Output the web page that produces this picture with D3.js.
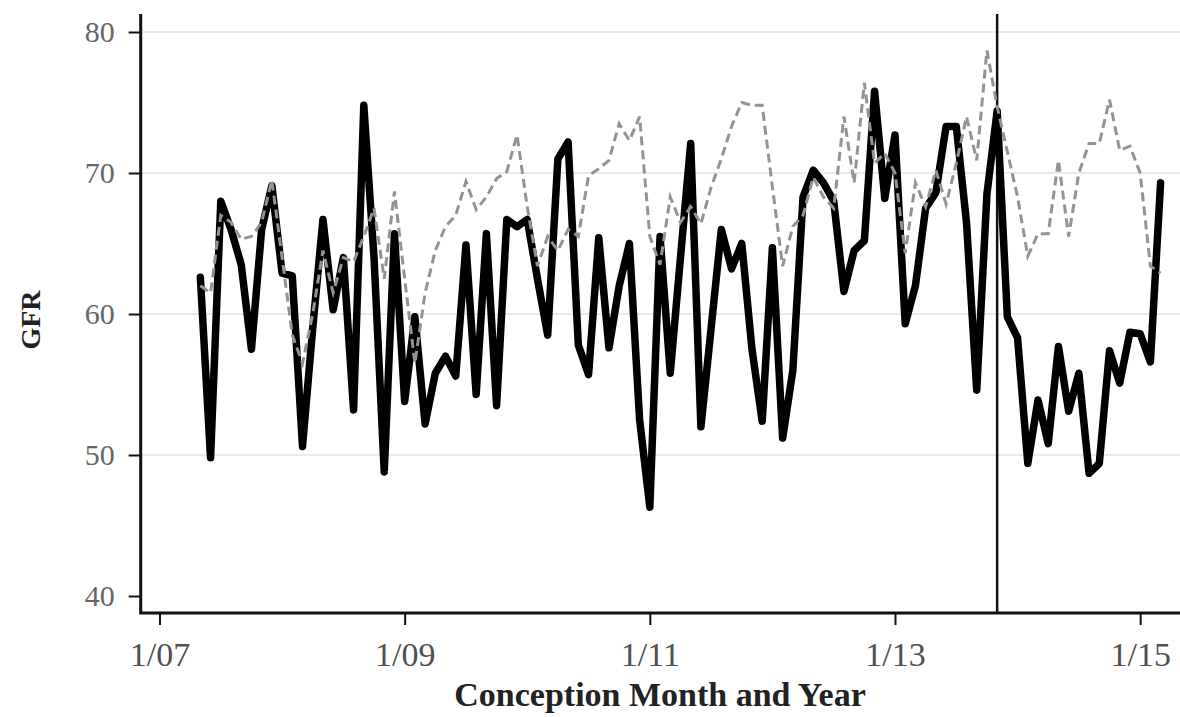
<!DOCTYPE html>
<html>
<head>
<meta charset="utf-8">
<script src="https://cdn.jsdelivr.net/npm/d3@7"></script>
<style>
  html, body { margin: 0; padding: 0; background: #fff; }
  svg { display: block; }
</style>
</head>
<body>
<svg id="chart" width="1180" height="717"></svg>
<script>
// Month index: 0 = Jan 2007. Series run from May 2007 (4) to Mar 2015 (98).
const firstMonth = 4;
const months = d3.range(firstMonth, 99);

// Solid black series (GFR)
const gfrSolid = [
  62.6, 49.8, 68.0, 66.0, 63.5, 57.5, 66.0, 69.1, 62.9, 62.7,
  50.6, 59.0, 66.7, 60.3, 64.0, 53.2, 74.8, 64.0, 48.8, 65.7,
  53.8, 59.8, 52.2, 55.8, 57.0, 55.6, 64.9, 54.3, 65.7, 53.5,
  66.7, 66.2, 66.7, 62.5, 58.5, 71.0, 72.2, 57.8, 55.7, 65.4,
  57.6, 62.0, 65.0, 52.5, 46.3, 65.5, 55.8, 64.0, 72.1, 52.0,
  59.0, 66.0, 63.2, 65.0, 57.5, 52.4, 64.7, 51.2, 56.0, 68.3,
  70.2, 69.3, 68.0, 61.6, 64.5, 65.2, 75.8, 68.2, 72.7, 59.3,
  62.0, 67.5, 68.6, 73.3, 73.3, 66.5, 54.6, 68.5, 74.4, 59.8,
  58.3, 49.4, 53.9, 50.8, 57.7, 53.1, 55.8, 48.7, 49.4, 57.4,
  55.1, 58.7, 58.6, 56.6, 69.3
];

// Gray dashed comparison series (GFR)
const gfrDashed = [
  62.0, 61.5, 67.0, 66.5, 65.3, 65.5, 66.5, 69.5, 64.0, 58.5,
  56.5, 60.0, 64.5, 61.5, 64.0, 63.7, 65.5, 67.5, 62.5, 68.7,
  62.5, 56.5, 61.5, 64.5, 66.2, 67.0, 69.4, 67.4, 68.3, 69.6,
  70.1, 72.7, 67.6, 63.4, 65.5, 64.5, 66.0, 65.5, 69.8, 70.3,
  70.9, 73.5, 72.3, 74.0, 65.5, 63.5, 68.3, 66.5, 67.6, 66.4,
  69.0, 71.0, 73.3, 75.0, 74.8, 74.8, 69.0, 63.4, 66.2, 67.0,
  69.7, 68.3, 67.5, 74.0, 69.3, 76.4, 70.7, 71.4, 70.0, 64.3,
  69.3, 67.6, 70.2, 67.8, 70.7, 74.0, 70.9, 78.7, 74.7, 71.5,
  68.3, 64.1, 65.7, 65.7, 70.9, 65.5, 70.0, 72.1, 72.1, 75.2,
  71.6, 71.9, 70.0, 63.4, 62.9
];

const xTickMonths = [0, 24, 48, 72, 96];
const xTickLabels = ["1/07", "1/09", "1/11", "1/13", "1/15"];
const yTicks = [40, 50, 60, 70, 80];
const policyMonth = 82; // Nov 2013

const svg = d3.select("#chart");
const plotLeft = 140.7, plotRight = 1180, plotTop = 14, plotBottom = 613;

const x = d3.scaleLinear().domain([-1.84, 99.9]).range([plotLeft, plotRight]);
const y = d3.scaleLinear().domain([40, 80]).range([596, 32]);

// gridlines
svg.append("g")
  .selectAll("line")
  .data(yTicks.filter(d => d > 40))
  .join("line")
  .attr("x1", plotLeft).attr("x2", plotRight)
  .attr("y1", d => y(d)).attr("y2", d => y(d))
  .attr("stroke", "#e2eeeb").attr("stroke-width", 2);

const serif = "'Liberation Serif', 'DejaVu Serif', serif";

// y axis
const yAxis = svg.append("g")
  .attr("transform", `translate(${plotLeft},0)`)
  .call(d3.axisLeft(y).tickValues(yTicks).tickSize(12).tickPadding(14).tickSizeOuter(0));
yAxis.select(".domain").remove();
yAxis.selectAll(".tick line").attr("stroke", "#111").attr("stroke-width", 2);
yAxis.selectAll(".tick text")
  .attr("font-family", serif).attr("font-size", 30).attr("fill", "#666");

// x axis
const xAxis = svg.append("g")
  .attr("transform", `translate(0,${plotBottom})`)
  .call(d3.axisBottom(x).tickValues(xTickMonths)
    .tickFormat((d, i) => xTickLabels[i]).tickSize(12).tickPadding(12).tickSizeOuter(0));
xAxis.select(".domain").remove();
xAxis.selectAll(".tick line").attr("stroke", "#111").attr("stroke-width", 2);
xAxis.selectAll(".tick text")
  .attr("font-family", serif).attr("font-size", 34).attr("fill", "#505050")
  .attr("dy", "0.85em");

// axis lines
svg.append("line")
  .attr("x1", plotLeft).attr("x2", plotLeft).attr("y1", plotTop).attr("y2", plotBottom)
  .attr("stroke", "#111").attr("stroke-width", 3);
svg.append("line")
  .attr("x1", plotLeft - 1.5).attr("x2", plotRight).attr("y1", plotBottom).attr("y2", plotBottom)
  .attr("stroke", "#111").attr("stroke-width", 3);

// policy line
svg.append("line")
  .attr("x1", x(policyMonth)).attr("x2", x(policyMonth))
  .attr("y1", plotTop).attr("y2", plotBottom)
  .attr("stroke", "#111").attr("stroke-width", 2.5);

const line = d3.line().x((d, i) => x(months[i])).y(d => y(d));

svg.append("path")
  .datum(gfrSolid)
  .attr("d", line)
  .attr("fill", "none")
  .attr("stroke", "#000")
  .attr("stroke-width", 7.5)
  .attr("stroke-linejoin", "round")
  .attr("stroke-linecap", "round");

svg.append("path")
  .datum(gfrDashed)
  .attr("d", line)
  .attr("fill", "none")
  .attr("stroke", "#939393")
  .attr("stroke-width", 3)
  .attr("stroke-dasharray", "9,5");

// axis titles
svg.append("text")
  .attr("x", 660).attr("y", 706)
  .attr("text-anchor", "middle")
  .attr("font-family", serif).attr("font-weight", "bold").attr("font-size", 34)
  .attr("fill", "#222")
  .text("Conception Month and Year");

svg.append("text")
  .attr("transform", "translate(40,320) rotate(-90)")
  .attr("text-anchor", "middle")
  .attr("font-family", serif).attr("font-weight", "bold").attr("font-size", 28)
  .attr("fill", "#222")
  .text("GFR");
</script>
</body>
</html>
